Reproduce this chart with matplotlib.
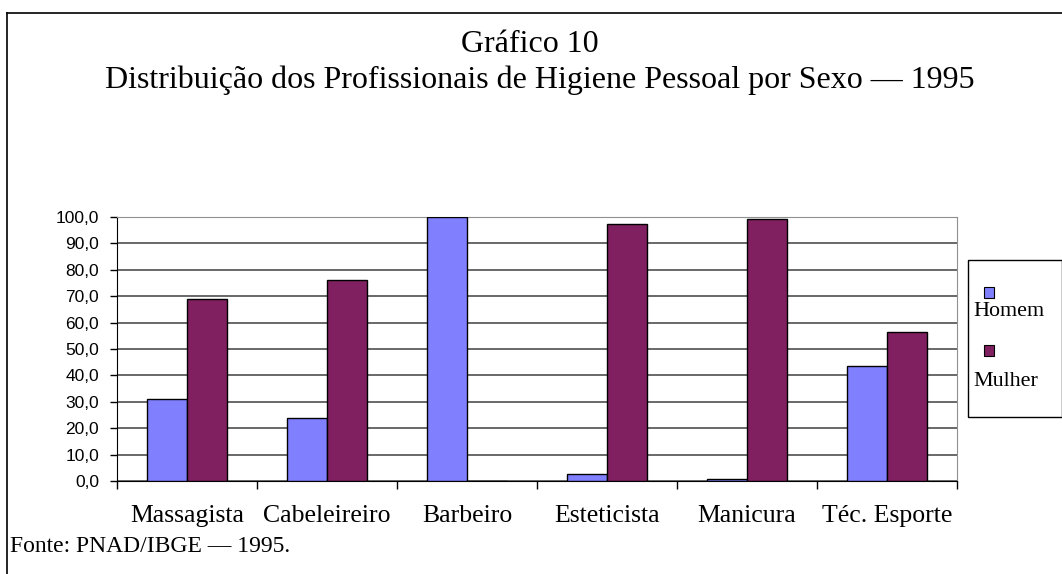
import matplotlib
matplotlib.use("Agg")
import numpy as np
import matplotlib.pyplot as plt
from matplotlib.patches import Rectangle
from matplotlib.lines import Line2D
from matplotlib.ticker import FixedLocator, FuncFormatter

categorias = ["Massagista", "Cabeleireiro", "Barbeiro", "Esteticista", "Manicura", "Téc. Esporte"]
homem = [30.9, 24.0, 100.0, 2.6, 0.9, 43.6]
mulher = [69.1, 76.0, 0.0, 97.4, 99.1, 56.4]
series = ["Homem", "Mulher"]
cores = ["#8080FF", "#802060"]

serif = ["Liberation Serif", "DejaVu Serif"]
sans = ["Liberation Sans Narrow", "Liberation Sans", "DejaVu Sans"]

fig = plt.figure(figsize=(10.62, 5.74), dpi=100)
ax = fig.add_axes([117 / 1062, 93 / 574, 840 / 1062, 264 / 574])

x = np.arange(len(categorias))
w = 1 / 3.5
ax.bar(x - w / 2, homem, w, color=cores[0], edgecolor="black", linewidth=1, zorder=3)
ax.bar(x + w / 2, mulher, w, color=cores[1], edgecolor="black", linewidth=1, zorder=3)

ax.set_xlim(-0.5, len(categorias) - 0.5)
ax.set_ylim(0, 100)
ax.set_yticks(np.arange(0, 101, 10))
ax.yaxis.set_major_formatter(FuncFormatter(lambda v, p: f"{v:.1f}".replace(".", ",")))
ax.yaxis.grid(True, color="#404040", linewidth=1.1, zorder=0)
ax.tick_params(axis="y", direction="out", length=5, width=1, pad=8, labelsize=12.5)
for lb in ax.get_yticklabels():
    lb.set_family(sans)

ax.xaxis.set_major_locator(FixedLocator(np.arange(-0.5, len(categorias), 1)))
ax.xaxis.set_minor_locator(FixedLocator(x))
ax.tick_params(axis="x", which="major", direction="out", length=6, width=1, labelbottom=False)
ax.tick_params(axis="x", which="minor", length=0, pad=17, labelsize=18.5)
ax.set_xticks(x, categorias, minor=True)
for lb in ax.get_xticklabels(minor=True):
    lb.set_family(serif)

for s in ["top", "right"]:
    ax.spines[s].set_color("#909090")
for s in ["left", "bottom"]:
    ax.spines[s].set_color("black")

fig.text(530 / 1062, 1 - 44 / 574, "Gráfico 10", ha="center", va="center", fontsize=23, family=serif)
fig.text(540 / 1062, 1 - 80 / 574, "Distribuição dos Profissionais de Higiene Pessoal por Sexo — 1995",
         ha="center", va="center", fontsize=23, family=serif)
fig.text(10 / 1062, 1 - 546 / 574, "Fonte: PNAD/IBGE — 1995.", ha="left", va="center", fontsize=17, family=serif)

# moldura externa (apenas topo e esquerda visíveis)
fig.add_artist(Line2D([6.5 / 1062, 1], [1 - 12.5 / 574, 1 - 12.5 / 574], color="black", lw=1.2))
fig.add_artist(Line2D([6.5 / 1062, 6.5 / 1062], [0, 1 - 12.5 / 574], color="black", lw=1.2))

# legenda
fig.add_artist(Rectangle((968 / 1062, 1 - 417 / 574), 94 / 1062, 157 / 574,
                         transform=fig.transFigure, facecolor="white", edgecolor="black", lw=1))
for i, (nome, cor, yq, yt) in enumerate(zip(series, cores, [287, 345], [312, 382])):
    fig.add_artist(Rectangle((984 / 1062, 1 - (yq + 11) / 574), 10 / 1062, 11 / 574,
                             transform=fig.transFigure, facecolor=cor, edgecolor="black", lw=0.8))
    fig.text(973 / 1062, 1 - yt / 574, nome, ha="left", va="center", fontsize=15.8, family=serif)

fig.savefig("out.png", dpi=100)
